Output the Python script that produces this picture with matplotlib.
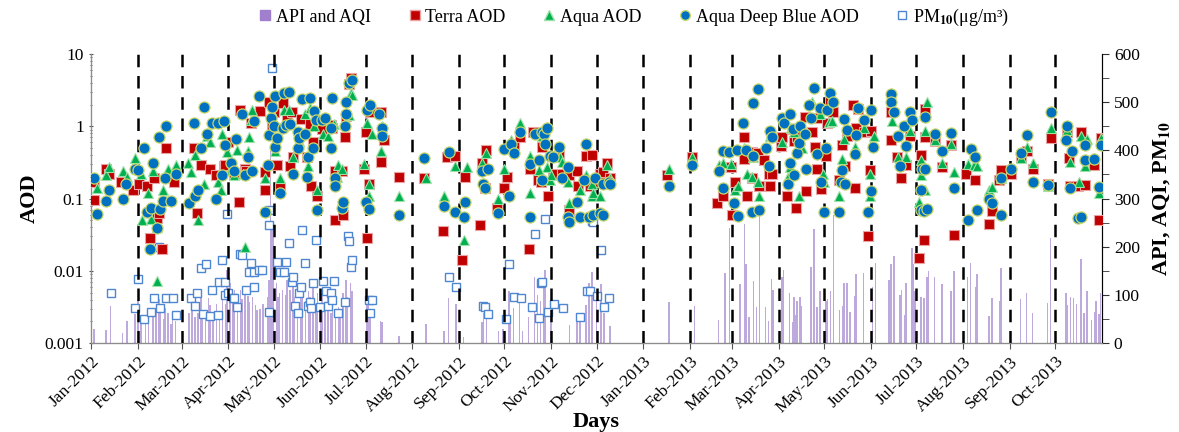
import numpy as np
import matplotlib
matplotlib.use("Agg")
import matplotlib.pyplot as plt
import matplotlib.dates as mdates
from matplotlib.ticker import MultipleLocator, LogLocator, FuncFormatter, NullFormatter
from matplotlib.lines import Line2D

plt.rcParams["font.family"] = ["Liberation Serif", "DejaVu Serif"]
plt.rcParams["mathtext.fontset"] = "stix"

# (days since 2012-01-01, value)
terra = [(2, 0.17), (2, 0.096), (10, 0.26), (12, 0.22), (20, 0.17), (28, 0.13), (32, 0.16), (37, 0.15),
         (39, 0.028), (42, 0.19), (44, 0.053), (45, 0.063), (47, 0.02), (50, 0.5), (55, 0.17), (68, 0.5),
         (70, 0.063), (73, 0.29), (79, 0.26), (83, 0.21), (88, 0.28), (89, 0.29), (91, 0.61), (95, 0.22),
         (98, 0.09), (99, 1.7), (102, 0.26), (103, 0.24), (106, 1.1),
         (112, 1.63), (115, 0.23), (115, 0.13), (118, 2.15), (120, 1.02), (121, 1.56), (123, 0.29), (125, 0.14),
         (127, 2.1), (130, 1.29), (132, 0.28), (133, 1.56), (134, 0.38), (139, 1.26), (143, 0.38), (145, 1.07),
         (146, 0.15), (147, 0.61), (150, 0.11), (153, 0.92), (159, 1.04), (160, 0.94), (162, 0.24), (162, 0.05),
         (166, 0.24), (167, 0.059), (168, 0.7), (169, 1.4), (171, 3.8), (172, 4.6), (181, 0.26), (182, 0.84),
         (183, 0.028), (184, 0.16), (185, 1.6), (192, 1.56), (192, 0.32), (194, 0.65), (204, 0.2), (221, 0.19),
         (233, 0.036), (236, 0.38), (241, 0.39), (246, 0.014), (248, 0.2), (258, 0.043), (259, 0.31), (261, 0.14),
         (262, 0.47), (269, 0.075), (274, 0.14), (276, 0.2), (280, 0.55), (284, 0.72), (290, 0.02), (291, 0.26),
         (293, 0.83), (296, 0.18), (298, 0.17), (299, 0.51), (303, 0.11), (306, 0.22), (310, 0.39), (312, 0.22),
         (317, 0.07), (317, 0.21), (322, 0.24), (323, 0.15), (328, 0.39), (331, 0.15),
         (332, 0.4), (335, 0.17), (337, 0.22), (339, 0.23), (342, 0.31), (344, 0.19), (382, 0.21), (398, 0.38),
         (415, 0.086), (419, 0.11), (424, 0.27), (425, 0.06), (427, 0.17), (433, 0.72), (433, 0.35), (435, 0.107),
         (438, 0.44), (438, 0.19), (442, 0.42),
         (443, 0.15), (446, 0.34), (449, 0.22), (450, 0.15), (451, 0.22), (457, 0.54), (458, 0.72), (461, 0.11),
         (465, 0.92), (466, 0.63), (467, 0.073), (468, 0.7), (470, 0.83), (473, 1.36), (474, 0.127), (478, 0.83),
         (480, 0.51), (481, 0.26), (482, 1.32), (484, 0.136), (487, 0.39), (488, 1.1), (490, 2.15), (492, 1.6),
         (496, 0.18), (498, 0.55), (500, 0.28), (501, 0.74), (505, 2.0), (506, 0.14), (507, 0.96), (508, 1.74),
         (512, 0.84), (515, 0.03), (516, 0.25), (517, 0.86), (530, 0.65), (530, 1.56), (534, 0.38), (537, 0.19),
         (540, 0.29), (543, 0.74), (549, 0.015), (550, 0.4), (552, 0.027), (553, 1.74), (553, 0.72),
         (559, 0.63), (564, 0.27), (570, 0.55), (572, 0.031), (580, 0.22), (586, 0.18), (595, 0.044), (597, 0.068),
         (602, 0.18), (603, 0.25), (610, 0.22), (616, 0.38), (620, 0.46), (624, 0.26), (634, 0.16), (636, 0.68),
         (647, 0.84), (648, 0.36), (649, 0.15), (654, 0.15), (656, 0.83), (659, 0.154), (665, 0.29), (668, 0.05),
         (669, 0.68)]

aqua = [(4, 0.14), (10, 0.21), (12, 0.27), (21, 0.24), (24, 0.2), (29, 0.36), (33, 0.22), (34, 0.05), (38, 0.12),
        (40, 0.052), (41, 0.24), (44, 0.04), (44, 0.0073), (48, 0.13), (51, 0.26), (56, 0.29), (64, 0.31),
        (66, 0.23), (69, 0.4), (71, 0.05), (75, 0.16), (77, 0.74), (79, 0.61), (84, 0.17), (86, 0.13), (87, 0.78),
        (90, 0.44), (92, 0.25), (95, 0.21), (97, 0.47), (101, 0.22), (102, 0.021), (104, 0.46), (105, 0.72),
        (106, 1.22), (107, 1.7),
        (115, 0.19), (120, 1.6), (122, 0.45), (125, 0.19), (128, 1.68), (131, 1.7), (134, 0.38), (138, 0.63),
        (142, 1.5), (144, 0.28), (145, 1.8), (148, 1.0), (150, 0.13), (154, 0.78), (157, 0.74), (161, 1.07),
        (163, 0.2), (164, 0.29), (166, 0.26), (171, 1.43), (172, 2.86), (173, 2.7), (181, 0.3), (183, 1.1),
        (184, 0.16), (184, 0.11), (186, 0.78), (192, 0.46), (193, 1.0), (204, 0.11), (222, 0.19),
        (234, 0.11), (241, 0.28), (247, 0.027), (249, 0.27), (259, 0.31), (262, 0.42), (270, 0.1), (274, 0.26),
        (278, 0.64), (284, 1.1), (291, 0.12), (291, 0.39), (297, 0.25), (299, 0.74), (302, 0.27), (304, 0.18),
        (305, 0.21), (311, 0.38), (312, 0.32), (316, 0.17), (317, 0.086), (324, 0.13), (328, 0.21), (332, 0.11),
        (332, 0.16), (333, 0.12), (337, 0.11), (342, 0.29), (344, 0.19), (383, 0.26), (398, 0.37), (416, 0.29),
        (419, 0.31), (424, 0.3), (427, 0.13), (429, 0.15), (433, 0.5), (435, 0.22), (438, 0.2), (439, 0.38),
        (443, 0.11),
        (442, 0.17), (450, 0.74), (458, 0.6), (462, 0.2), (463, 0.27), (464, 0.94), (466, 0.84), (469, 0.11),
        (470, 0.65), (471, 0.5), (478, 2.2), (483, 1.47), (485, 0.22), (486, 0.17), (489, 1.14), (491, 1.19),
        (496, 0.11), (498, 0.35), (499, 0.67), (506, 0.51), (512, 0.96), (516, 0.11), (516, 0.22), (519, 0.74),
        (531, 1.19), (535, 0.38), (540, 0.38), (543, 0.86), (549, 0.09), (550, 0.21), (550, 0.34), (554, 2.2),
        (553, 0.86), (553, 0.13), (559, 0.65), (564, 0.31), (570, 0.56), (572, 0.23), (581, 0.3), (585, 0.29),
        (587, 0.28), (595, 0.13), (597, 0.146), (603, 0.19), (616, 0.36), (620, 0.51), (624, 0.31), (634, 0.15),
        (636, 0.96), (647, 0.89), (649, 0.32), (655, 0.17), (656, 0.74), (659, 0.28), (660, 0.67), (665, 0.36),
        (668, 0.12), (669, 0.68)]

deep_blue = [(2, 0.19), (4, 0.061), (10, 0.093), (12, 0.13), (21, 0.1), (23, 0.16), (29, 0.26), (31, 0.25),
             (35, 0.5), (37, 0.065), (39, 0.02), (40, 0.073), (41, 0.31), (44, 0.039), (45, 0.7), (46, 0.072),
             (48, 0.093), (49, 0.19), (50, 1.0), (53, 0.093), (56, 0.22), (65, 0.086), (68, 1.1), (69, 0.11),
             (71, 0.13), (73, 0.5), (75, 1.87), (77, 0.78), (80, 1.1), (83, 0.1), (84, 1.1), (87, 0.21), (88, 1.2),
             (89, 0.55), (93, 0.31), (95, 0.24), (96, 0.67), (100, 1.5), (102, 0.21), (104, 0.38), (107, 0.24),
             (108, 1.2), (111, 2.6),
             (115, 0.065), (117, 0.29), (118, 0.76), (119, 1.29), (120, 1.87), (121, 1.0), (122, 2.65), (122, 0.52),
             (123, 0.69), (125, 0.12), (127, 0.94), (128, 2.86), (129, 1.04), (131, 2.95), (132, 1.07), (134, 0.22),
             (137, 0.84), (137, 0.5), (138, 0.68), (140, 2.4), (142, 0.78), (143, 0.2), (144, 0.38), (145, 2.45),
             (147, 0.5), (148, 1.63), (149, 1.22), (150, 0.069), (153, 1.22), (155, 1.29), (159, 0.96), (159, 0.5),
             (160, 2.45), (162, 0.19), (162, 0.15), (166, 0.074), (167, 0.089), (168, 1.0), (169, 1.5), (169, 2.2),
             (171, 4.0), (173, 4.4), (182, 0.089), (183, 1.68), (184, 0.072), (185, 2.0), (191, 1.5), (193, 0.94),
             (193, 0.74), (204, 0.06), (221, 0.36),
             (234, 0.08), (237, 0.44), (241, 0.066), (247, 0.056), (248, 0.09), (259, 0.24), (260, 0.16), (261, 0.14),
             (263, 0.26), (270, 0.063), (274, 0.49), (277, 0.11), (278, 0.56), (280, 0.42), (284, 0.83), (291, 0.3),
             (291, 0.055), (294, 0.78), (297, 0.34), (299, 0.83), (299, 0.18), (300, 0.78), (301, 0.56), (302, 0.96),
             (304, 0.39), (306, 0.37), (310, 0.52), (312, 0.19), (316, 0.27), (316, 0.056), (317, 0.047), (322, 0.09),
             (324, 0.055), (327, 0.18), (328, 0.56), (330, 0.056),
             (333, 0.059), (334, 0.19), (337, 0.063), (339, 0.06), (339, 0.16), (343, 0.17), (344, 0.16), (383, 0.15),
             (398, 0.29), (416, 0.24), (419, 0.45), (419, 0.14), (423, 0.44), (426, 0.088), (428, 0.47), (429, 0.058),
             (432, 1.1), (434, 0.47), (438, 0.066), (439, 2.08), (439, 0.39), (442, 3.3), (443, 0.069),
             (447, 0.5), (449, 0.28), (450, 0.86), (451, 0.7), (458, 1.29), (459, 1.1), (462, 0.16), (463, 1.47),
             (463, 0.31), (465, 0.92), (466, 0.21), (468, 0.42), (469, 0.58), (470, 1.02), (473, 0.78), (474, 0.26),
             (476, 2.0), (477, 1.29), (479, 3.36), (481, 0.41), (483, 1.8), (484, 0.17), (486, 0.065), (487, 0.5),
             (488, 1.7), (490, 2.86), (492, 2.15), (496, 0.066), (497, 0.17), (498, 0.25), (499, 1.26), (500, 0.16),
             (501, 0.89), (506, 0.41), (507, 0.76), (508, 1.8), (512, 1.22), (515, 0.066), (517, 0.128), (517, 1.68),
             (518, 0.52), (530, 2.8), (530, 2.2), (532, 1.56), (535, 0.74), (536, 0.28), (539, 1.0), (540, 0.54),
             (543, 1.6), (544, 1.22), (550, 0.13), (550, 0.07), (551, 0.26), (552, 0.067),
             (553, 1.36), (553, 0.26), (554, 0.072), (559, 0.78), (564, 0.45), (570, 0.8), (572, 0.14), (581, 0.05),
             (583, 0.49), (586, 0.37), (587, 0.07), (595, 0.099), (597, 0.086), (603, 0.19), (603, 0.06), (610, 0.26),
             (616, 0.42), (620, 0.76), (624, 0.17), (634, 0.154), (636, 1.6), (646, 0.65), (647, 1.0), (649, 0.14),
             (650, 0.46), (654, 0.053), (656, 0.056), (659, 0.55), (659, 0.34), (665, 0.35), (668, 0.146), (669, 0.55)]

pm10 = [(13, 104), (29, 72), (31, 132), (35, 49), (40, 64), (42, 93), (45, 199), (46, 72), (50, 93), (54, 93),
        (56, 58), (66, 93), (69, 77), (70, 103), (73, 155), (74, 60), (76, 165), (79, 56), (80, 111), (84, 59),
        (85, 127), (87, 172), (89, 127), (89, 100), (90, 268), (91, 104), (94, 93), (95, 93), (97, 75), (99, 185),
        (100, 183), (103, 111), (105, 148), (106, 167), (108, 148), (108, 117), (111, 152),
        (113, 152), (118, 277), (118, 245), (118, 65), (120, 570), (123, 169), (125, 148), (128, 148), (129, 169),
        (131, 207), (133, 127), (134, 138), (135, 77), (137, 63), (138, 103), (139, 117), (140, 235), (142, 167),
        (144, 77), (145, 86), (146, 72), (147, 125), (149, 214), (152, 74), (154, 129), (156, 109), (157, 77),
        (159, 103), (160, 89), (161, 129), (164, 62), (168, 86), (170, 222), (171, 212), (172, 157), (173, 172),
        (184, 89), (185, 63), (186, 89),
        (237, 136), (242, 116), (260, 77), (261, 74), (263, 60), (275, 49), (277, 164), (280, 96), (285, 93),
        (292, 75), (294, 226), (297, 51), (298, 125), (299, 127), (301, 257), (303, 65), (307, 81), (313, 72),
        (324, 55), (329, 107), (332, 254), (331, 107), (333, 252), (335, 98), (338, 193), (340, 75), (343, 93)]

api_aqi = [(0, 34), (2, 30), (10, 26), (13, 77), (21, 21), (24, 46), (29, 60), (31, 89), (33, 44), (36, 41),
           (38, 55), (41, 62), (43, 70), (45, 91), (46, 67), (48, 49), (49, 72), (51, 62), (53, 39), (54, 49),
           (56, 46), (65, 62), (67, 75), (69, 55), (71, 62), (73, 103), (74, 69), (76, 55), (78, 93), (79, 79),
           (81, 49), (83, 82), (85, 67), (87, 91), (89, 82), (90, 152), (92, 124), (94, 88), (95, 110), (97, 75),
           (99, 110), (100, 91), (102, 118), (104, 98), (105, 86), (107, 96), (109, 79), (110, 69),
           (112, 70), (114, 82), (117, 95), (118, 131), (119, 400), (120, 248), (121, 221), (123, 124), (124, 96),
           (125, 103), (127, 111), (129, 100), (130, 131), (132, 110), (134, 138), (135, 96), (137, 82), (139, 103),
           (140, 124), (142, 88), (144, 107), (145, 96), (147, 117), (149, 75), (150, 104), (152, 69), (153, 103),
           (155, 75), (157, 93), (159, 62), (160, 88), (162, 62), (164, 75), (165, 55), (167, 103), (169, 131),
           (170, 96), (172, 124), (173, 109), (183, 88), (184, 93), (185, 62), (192, 46), (193, 44), (204, 15),
           (222, 39),
           (234, 24), (237, 93), (242, 81), (247, 13), (259, 44), (260, 62), (262, 75), (270, 24), (273, 30),
           (277, 107), (278, 49), (280, 72), (284, 91), (286, 24), (290, 55), (294, 138), (296, 100), (298, 88),
           (300, 132), (301, 152), (305, 55), (317, 37), (322, 44), (324, 62), (328, 79), (330, 124), (332, 148),
           (335, 93), (338, 122), (340, 62), (344, 35), (383, 86), (400, 77), (416, 48), (420, 146), (423, 238),
           (430, 122), (433, 248), (434, 165), (436, 55), (439, 129), (441, 75), (443, 276),
           (447, 74), (449, 46), (451, 132), (452, 110), (458, 138), (459, 152), (463, 104), (465, 44), (466, 96),
           (467, 58), (468, 88), (470, 96), (471, 77), (477, 157), (479, 236), (481, 75), (483, 107), (487, 88),
           (488, 91), (490, 109), (492, 266), (496, 69), (498, 77), (499, 125), (501, 125), (503, 65), (506, 98),
           (507, 143), (512, 146), (518, 116), (520, 167), (529, 131), (530, 164), (532, 181), (536, 100),
           (537, 111), (539, 58), (540, 124), (544, 197), (545, 165), (546, 109), (550, 95), (552, 93), (554, 138),
           (555, 150), (559, 136), (564, 122), (570, 107), (572, 150), (581, 136), (583, 167), (586, 117),
           (587, 143), (595, 56), (597, 93), (602, 88), (603, 155), (616, 91), (620, 104), (624, 62), (634, 84),
           (636, 217), (646, 104), (647, 79), (649, 95), (651, 93), (653, 81), (656, 174), (658, 63), (660, 107),
           (663, 48), (665, 65), (666, 88), (668, 60), (669, 104)]

start = np.datetime64("2012-01-01")


def split(pairs):
    d, v = zip(*pairs)
    return start + np.array(d).astype("timedelta64[D]"), np.array(v, dtype=float)


fig, ax = plt.subplots(figsize=(11.79, 4.32), dpi=100)
fig.subplots_adjust(left=0.0772, right=0.9347, bottom=0.206, top=0.875)
ax2 = ax.twinx()
ax.set_zorder(ax2.get_zorder() + 1)
ax.patch.set_visible(False)

# bars + PM10 on right axis
d, v = split(api_aqi)
ax2.bar(d, v, width=1.0, color="#b39ad6", alpha=0.85, linewidth=0)
d, v = split(pm10)
ax2.plot(d, v, "s", ms=6, mfc="white", mec="#4f86d1", mew=1.0, ls="")

# month dashed lines
months = np.arange(np.datetime64("2012-01"), np.datetime64("2013-11"), np.timedelta64(1, "M")).astype("datetime64[D]")
for m in months[1:]:
    ax.axvline(m, color="black", lw=1.8, ls=(0, (5, 3.5)), zorder=1)

d, v = split(terra)
ax.plot(d, v, "s", ms=7.5, mfc="#c00000", mec="#e9a3a3", mew=0.8, ls="", zorder=3)
d, v = split(aqua)
ax.plot(d, v, "^", ms=7.5, mfc="#00b050", mec="#9fe0a6", mew=0.8, ls="", zorder=4)
d, v = split(deep_blue)
ax.plot(d, v, "o", ms=8, mfc="#0070c0", mec="#c9d86b", mew=0.9, ls="", zorder=5)

ax.set_yscale("log")
ax.set_ylim(0.001, 10)
ax.yaxis.set_major_formatter(FuncFormatter(lambda y, p: "%g" % y))
ax.yaxis.set_minor_locator(LogLocator(base=10, subs=np.arange(2, 10)))
ax.yaxis.set_minor_formatter(NullFormatter())
ax2.set_ylim(0, 600)
ax2.yaxis.set_major_locator(MultipleLocator(100))
ax2.yaxis.set_minor_locator(MultipleLocator(50))

ax.set_xlim(np.datetime64("2012-01-01"), np.datetime64("2013-11-01"))
ax.set_xticks(months)
ax.xaxis.set_major_formatter(mdates.DateFormatter("%b-%Y"))
plt.setp(ax.get_xticklabels(), rotation=45, ha="right", rotation_mode="anchor")

for a in (ax, ax2):
    a.spines["top"].set_visible(False)
    a.tick_params(labelsize=12.5)
ax.spines["left"].set_color("#8c8c8c")
ax.spines["bottom"].set_color("#8c8c8c")
ax2.spines["right"].set_color("#333333")
ax.tick_params(axis="y", which="both", direction="inout", colors="#555555", labelcolor="black")
ax.tick_params(axis="x", direction="out", length=4, colors="#555555", labelcolor="black")
ax2.tick_params(axis="y", which="both", direction="out", length=5, colors="#333333", labelcolor="black")

ax.set_ylabel("AOD", fontsize=16, fontweight="bold", labelpad=4)
fig.text(0.5055, 0.0, "Days", fontsize=16, fontweight="bold", ha="center", va="bottom")
ax2.set_ylabel(r"API, AQI, PM$_{\mathbf{10}}$", fontsize=16, fontweight="bold", labelpad=8)

handles = [
    Line2D([], [], marker="s", color="#a07fcf", ls="", ms=7),
    Line2D([], [], marker="s", mfc="#c00000", mec="#e9a3a3", ls="", ms=7),
    Line2D([], [], marker="^", mfc="#00b050", mec="#9fe0a6", ls="", ms=7),
    Line2D([], [], marker="o", mfc="#0070c0", mec="#c9d86b", ls="", ms=7),
    Line2D([], [], marker="s", mfc="white", mec="#4f86d1", ls="", ms=6),
]
labels = ["API and AQI", "Terra AOD", "Aqua AOD", "Aqua Deep Blue AOD", r"PM$_{\mathbf{10}}$(μg/m³)"]
fig.legend(handles, labels, loc="center", bbox_to_anchor=(0.538, 0.96), ncol=5, frameon=False,
           fontsize=13, handlelength=0.6, handletextpad=0.3, columnspacing=2.1)

fig.savefig("out.png", dpi=100)
